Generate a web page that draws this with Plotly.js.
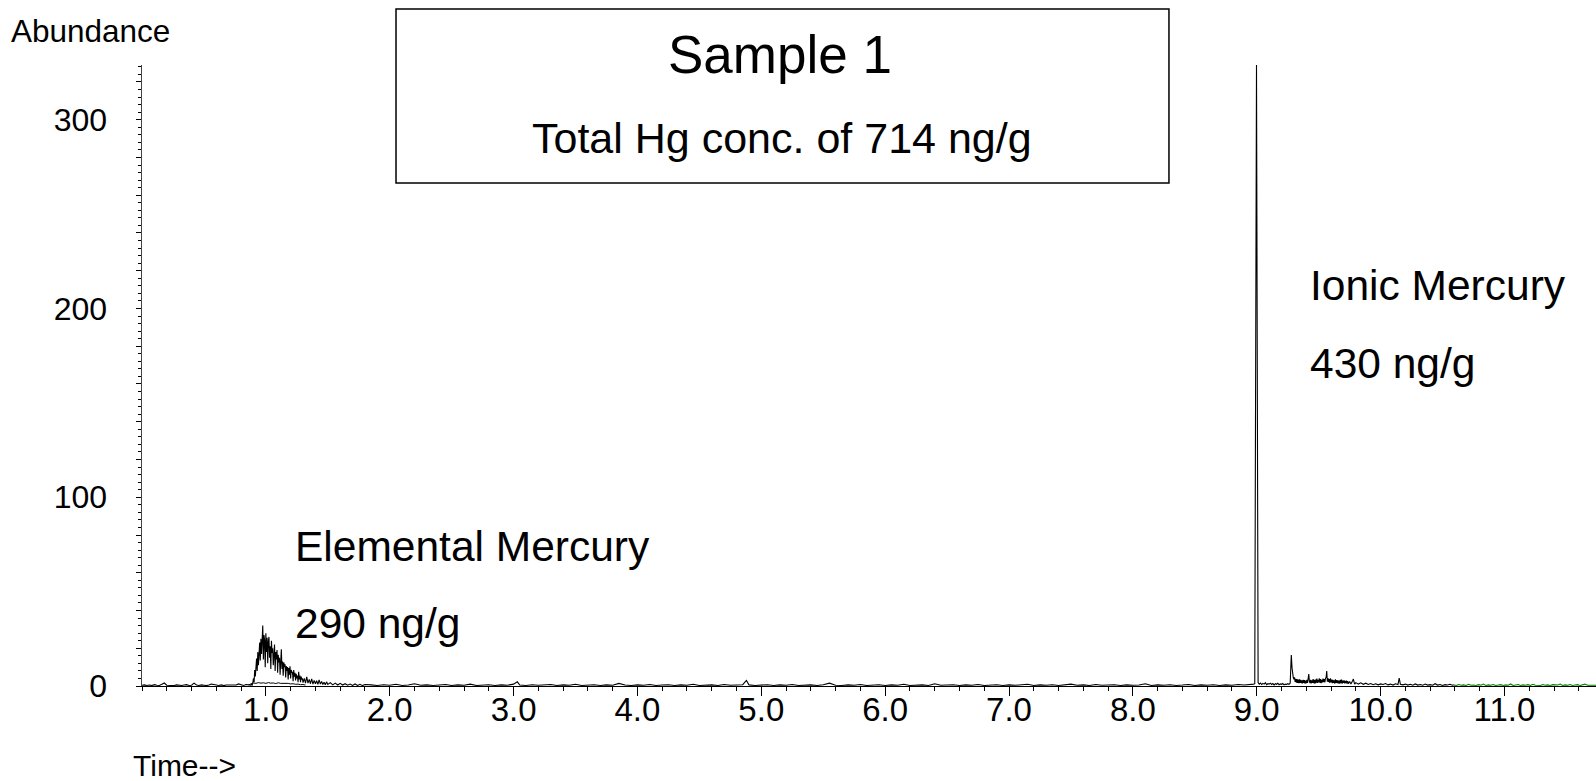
<!DOCTYPE html>
<html>
<head>
<meta charset="utf-8">
<script src="https://cdn.plot.ly/plotly-3.0.1.min.js"></script>
<style>html,body{margin:0;padding:0;background:#fff;}#chart{width:1596px;height:781px;}</style>
</head>
<body>
<div id="chart"></div>
<script>
// ---- Data: [time (min), abundance] ----
const mainScan = [
  [0.00,0.4],[0.02,0.6],[0.04,0.3],[0.06,0.5],[0.08,0.2],[0.10,0.7],[0.12,0.4],[0.14,0.3],[0.16,0.9],[0.18,1.6],
  [0.20,0.4],[0.22,0.3],[0.24,0.5],[0.26,0.2],[0.28,0.6],[0.30,0.4],[0.32,0.3],[0.34,0.5],[0.36,0.7],[0.38,0.3],
  [0.40,0.4],[0.42,1.5],[0.44,0.5],[0.46,0.3],[0.48,0.6],[0.50,0.4],[0.52,0.2],[0.54,0.5],[0.56,1.0],[0.58,0.8],
  [0.60,0.4],[0.62,0.3],[0.64,0.6],[0.66,0.2],[0.68,0.5],[0.70,0.4],[0.72,0.7],[0.74,0.3],[0.76,0.5],[0.78,1.1],
  [0.80,0.6],[0.82,0.3],[0.84,0.8],[0.86,0.5],
  [0.880,0.5],[0.885,0.9],[0.890,0.6],[0.895,1.8],[0.900,4.0],[0.905,2.0],[0.910,8.5],[0.915,5.0],[0.920,12.0],[0.925,14.5],
  [0.930,8.0],[0.935,18.0],[0.940,11.0],[0.945,20.5],[0.950,23.0],[0.955,13.5],[0.960,25.0],[0.965,17.0],[0.970,22.0],[0.975,32.0],
  [0.980,14.0],[0.985,27.0],[0.990,24.0],[0.995,10.0],[1.000,28.0],[1.005,18.0],[1.010,25.5],[1.015,12.0],[1.020,23.5],[1.025,26.0],
  [1.030,15.0],[1.035,21.0],[1.040,9.0],[1.045,24.0],[1.050,17.5],[1.055,20.0],[1.060,11.0],[1.065,19.5],[1.070,22.0],[1.075,8.0],
  [1.080,18.0],[1.085,14.0],[1.090,19.0],[1.095,7.0],[1.100,16.5],[1.105,12.5],[1.110,15.0],[1.115,6.0],[1.120,14.0],[1.125,19.5],
  [1.130,9.0],[1.135,13.0],[1.140,5.5],[1.145,12.5],[1.150,10.0],[1.155,11.5],[1.160,4.5],[1.165,10.5],[1.170,8.0],[1.175,10.0],
  [1.180,3.5],[1.185,9.5],[1.190,6.0],[1.195,10.5],[1.200,4.0],[1.205,8.5],[1.210,7.0],[1.215,7.5],[1.220,2.5],[1.225,8.5],
  [1.230,5.0],[1.235,7.0],[1.240,3.0],[1.245,6.5],[1.250,4.0],[1.255,5.5],[1.260,2.0],[1.265,7.5],[1.270,3.5],[1.275,5.5],
  [1.280,2.0],[1.285,5.0],[1.290,3.5],[1.295,4.0],[1.300,1.8],
  [1.31,4.0],[1.32,1.5],[1.33,4.8],[1.34,1.5],[1.35,3.5],[1.36,1.2],[1.37,3.8],[1.38,1.0],[1.39,3.0],[1.40,1.2],
  [1.41,2.8],[1.42,0.9],[1.43,3.2],[1.44,1.0],[1.45,2.4],[1.46,0.8],[1.47,2.0],[1.48,0.7],[1.49,2.2],[1.50,0.8],
  [1.52,1.8],[1.54,0.6],[1.56,1.5],[1.58,0.5],[1.60,1.4],[1.62,0.5],[1.64,1.2],[1.66,0.4],[1.68,1.0],[1.70,0.3],
  [1.72,1.1],[1.74,0.3],[1.76,0.9],[1.78,0.2],[1.80,0.8],
  [1.85,0.6],[1.90,0.3],[1.95,0.7],[2.00,0.4],[2.05,0.9],[2.10,0.3],[2.15,0.5],[2.20,1.2],[2.25,0.4],[2.30,0.6],
  [2.35,0.3],[2.40,0.5],[2.45,0.8],[2.50,0.3],[2.55,0.6],[2.60,0.4],[2.65,1.0],[2.70,0.3],[2.75,0.5],[2.80,0.7],
  [2.85,0.3],[2.90,0.6],[2.95,0.4],[3.00,1.0],[3.03,2.2],[3.05,0.5],[3.10,0.3],[3.15,0.7],[3.20,0.4],[3.25,0.5],
  [3.30,0.8],[3.35,0.3],[3.40,0.6],[3.45,0.4],[3.50,0.9],[3.55,0.3],[3.60,0.5],[3.65,0.7],[3.70,0.3],[3.75,0.6],
  [3.80,0.4],[3.85,1.4],[3.90,0.5],[3.95,0.3],[4.00,0.6],[4.05,0.4],[4.10,0.8],[4.15,0.3],[4.20,0.5],[4.25,0.7],
  [4.30,0.3],[4.35,0.6],[4.40,0.4],[4.45,0.9],[4.50,0.3],[4.55,0.5],[4.60,0.6],[4.65,0.3],[4.70,0.8],[4.75,0.4],
  [4.80,0.5],[4.85,0.7],[4.88,3.0],[4.90,0.6],[4.95,0.3],[5.00,0.5],[5.05,0.7],[5.10,0.3],[5.15,0.6],[5.20,0.4],
  [5.25,0.8],[5.30,0.3],[5.35,0.5],[5.40,0.6],[5.45,0.3],[5.50,0.7],[5.55,1.5],[5.60,0.4],[5.65,0.3],[5.70,0.6],
  [5.75,0.4],[5.80,0.8],[5.85,0.3],[5.90,0.5],[5.95,0.7],[6.00,0.3],[6.05,0.6],[6.10,0.4],[6.15,0.9],[6.20,0.3],
  [6.25,0.5],[6.30,0.6],[6.35,0.3],[6.40,1.2],[6.45,0.4],[6.50,0.5],[6.55,0.7],[6.60,0.3],[6.65,0.6],[6.70,0.4],
  [6.75,0.8],[6.80,0.3],[6.85,0.5],[6.90,0.7],[6.95,0.3],[7.00,0.6],[7.05,0.4],[7.10,0.5],[7.15,0.9],[7.20,0.3],
  [7.25,0.6],[7.30,0.4],[7.35,0.7],[7.40,0.3],[7.45,0.5],[7.50,1.0],[7.55,0.4],[7.60,0.6],[7.65,0.3],[7.70,0.8],
  [7.75,0.4],[7.80,0.5],[7.85,0.7],[7.90,0.3],[7.95,0.6],[8.00,0.4],[8.05,0.5],[8.10,1.2],[8.15,0.3],[8.20,0.6],
  [8.25,0.4],[8.30,0.7],[8.35,0.3],[8.40,0.5],[8.45,0.8],[8.50,0.3],[8.55,0.6],[8.60,0.4],[8.65,0.7],[8.70,0.3],
  [8.75,0.6],[8.80,0.4],[8.85,0.8],[8.90,0.5],[8.95,0.6],[8.975,1.0],
  [8.984,1.2],[8.998,329],[9.011,1.8],
  [9.02,1.0],[9.03,1.6],[9.04,0.8],[9.05,1.4],[9.06,1.0],[9.07,1.8],[9.08,0.7],[9.09,1.2],[9.10,1.0],[9.11,1.5],
  [9.12,0.8],[9.13,1.3],[9.14,0.6],[9.15,1.2],[9.16,0.9],[9.17,1.4],[9.18,0.7],[9.19,1.1],[9.20,0.9],[9.21,1.3],
  [9.22,0.6],[9.23,1.0],[9.24,0.8],[9.25,1.2],[9.26,0.9],[9.27,1.5],[9.275,9.0],[9.279,16.4],[9.285,9.5],[9.29,6.0],
  [9.295,4.5],[9.30,3.5],[9.305,4.6],[9.31,2.2],[9.315,3.8],[9.32,1.8],[9.325,3.6],[9.33,1.6],[9.335,3.4],[9.34,1.5],
  [9.345,3.5],[9.35,1.7],[9.355,3.2],[9.36,1.5],[9.365,3.0],[9.37,1.4],[9.375,3.3],[9.38,1.6],[9.385,3.1],[9.39,1.3],
  [9.395,2.8],[9.40,1.5],[9.405,3.2],[9.41,1.6],[9.415,4.0],[9.42,6.3],[9.425,2.5],[9.43,1.5],[9.435,3.2],[9.44,1.4],
  [9.445,3.0],[9.45,1.7],[9.455,3.6],[9.46,1.5],[9.465,3.2],[9.47,1.3],[9.475,3.4],[9.48,1.7],[9.485,3.9],[9.49,1.6],
  [9.495,3.3],[9.50,1.9],[9.505,4.0],[9.51,1.7],[9.515,3.6],[9.52,1.5],[9.525,3.2],[9.53,1.9],[9.535,3.9],[9.54,2.1],
  [9.545,3.6],[9.55,1.9],[9.555,4.1],[9.56,4.5],[9.565,7.9],[9.57,2.3],[9.575,4.2],[9.58,2.1],[9.585,3.6],[9.59,1.7],
  [9.595,4.0],[9.60,1.9],[9.605,3.4],[9.61,1.5],[9.615,3.3],[9.62,1.6],[9.625,3.0],[9.63,1.3],[9.635,3.5],[9.64,1.6],
  [9.645,3.1],[9.65,1.5],[9.655,3.0],[9.66,1.4],[9.665,2.9],[9.67,1.2],[9.675,3.2],[9.68,1.5],[9.685,3.4],[9.69,1.3],
  [9.695,2.8],[9.70,1.7],[9.705,3.0],[9.71,1.4],[9.715,2.7],[9.72,1.5],[9.725,2.9],[9.73,1.3],[9.735,2.6],[9.74,1.2],
  [9.75,2.4],[9.76,1.1],[9.77,2.2],[9.78,3.7],[9.79,1.0],[9.80,1.8],[9.82,1.0],[9.84,1.7],[9.86,0.9],[9.88,1.5],
  [9.90,0.8],[9.92,1.3],[9.94,0.7],[9.96,1.2],[9.98,0.6],[10.00,1.1],[10.02,0.8],[10.04,1.3],[10.06,0.6],[10.08,1.0],
  [10.10,0.5],[10.12,1.2],[10.14,0.8],[10.15,4.2],[10.16,0.9],[10.18,0.6],[10.20,1.0],[10.22,0.5],[10.24,0.9],[10.26,0.4],
  [10.28,1.1],[10.30,0.5],[10.32,0.8],[10.34,0.4],[10.36,1.0],[10.38,0.5],[10.40,0.7],[10.42,0.4],[10.44,1.2],[10.46,0.5],
  [10.48,0.8],[10.50,0.3],[10.52,0.7],[10.54,0.5],[10.56,0.9],[10.58,0.4],[10.59,0.6]
];

// second, near-zero trace visible under the elemental peak
const baselineScan = [
  [0.86,0.6],[0.88,1.2],[0.90,1.6],[0.92,1.4],[0.94,1.8],[0.96,1.5],[0.98,1.7],[1.00,1.4],[1.02,1.8],[1.04,1.5],
  [1.06,1.6],[1.08,1.3],[1.10,1.7],[1.12,1.4],[1.14,1.5],[1.16,1.2],[1.18,1.4],[1.20,1.1],[1.22,1.2],[1.24,0.9],
  [1.26,1.0],[1.28,0.7],[1.30,0.8],[1.32,0.5]
];

// final green segment
const endScan = [
  [10.59,0.6],[10.61,0.3],[10.63,0.8],[10.65,0.4],[10.67,0.6],[10.69,0.3],[10.71,0.9],[10.73,0.4],[10.75,0.5],[10.77,0.3],
  [10.79,0.7],[10.81,0.4],[10.83,1.0],[10.85,0.3],[10.87,0.6],[10.89,0.4],[10.91,0.8],[10.93,0.3],[10.95,0.5],[10.97,0.7],
  [10.99,0.3],[11.01,0.6],[11.03,0.4],[11.05,1.1],[11.07,0.3],[11.09,0.5],[11.11,0.8],[11.13,0.3],[11.15,0.6],[11.17,0.4],
  [11.19,0.7],[11.21,0.3],[11.23,0.9],[11.25,0.4],[11.27,0.5],[11.29,0.3],[11.31,0.8],[11.33,0.4],[11.35,0.6],[11.37,0.3],
  [11.39,0.7],[11.41,0.4],[11.43,0.5],[11.45,1.0],[11.47,0.3],[11.49,0.6],[11.51,0.4],[11.53,0.8],[11.55,0.3],[11.57,0.5],
  [11.59,0.7],[11.61,0.3],[11.63,0.6],[11.65,1.0],[11.67,0.4],[11.69,0.5],[11.71,0.3],[11.73,0.7],[11.75,0.4]
];

const xTickValues = [1,2,3,4,5,6,7,8,9,10,11];
const xTickLabels = ['1.0','2.0','3.0','4.0','5.0','6.0','7.0','8.0','9.0','10.0','11.0'];
const yTickValues = [0,20,40,60,80,100,120,140,160,180,200,220,240,260,280,300,320];
const yTickLabels = ['0','','','','','100','','','','','200','','','','','300',''];

const titleText = 'Sample 1';
const subtitleText = 'Total Hg conc. of 714 ng/g';
const peakLabels = [
  {name:'Elemental Mercury', amount:'290 ng/g'},
  {name:'Ionic Mercury', amount:'430 ng/g'}
];

const FONT = 'Liberation Sans, Arial, Helvetica, sans-serif';

const traces = [
  {x: baselineScan.map(p=>p[0]), y: baselineScan.map(p=>p[1]), type:'scatter', mode:'lines',
   line:{color:'#000', width:1}, hoverinfo:'skip'},
  {x: mainScan.map(p=>p[0]), y: mainScan.map(p=>p[1]), type:'scatter', mode:'lines',
   line:{color:'#000', width:1.1}},
  {x: endScan.map(p=>p[0]), y: endScan.map(p=>p[1]), type:'scatter', mode:'lines',
   line:{color:'#008000', width:1.1}}
];

const layout = {
  width:1596, height:781,
  margin:{l:142, r:0, t:65, b:95, pad:0},
  paper_bgcolor:'#fff', plot_bgcolor:'#fff',
  showlegend:false,
  font:{family:FONT, color:'#000'},
  xaxis:{
    range:[0, 11.739], tickmode:'array', tickvals:xTickValues, ticktext:xTickLabels,
    ticks:'outside', ticklen:9, tickwidth:1, tickcolor:'#000',
    showline:true, linecolor:'#000', linewidth:1, showgrid:false, zeroline:false,
    tickfont:{family:FONT, size:33, color:'#000'}, ticklabelstandoff:-15,
    minor:{tickmode:'linear', tick0:0, dtick:0.2, ticks:'outside', ticklen:4, tickwidth:1, tickcolor:'#000', showgrid:false}
  },
  yaxis:{
    range:[0, 329], tickmode:'array', tickvals:yTickValues, ticktext:yTickLabels,
    ticks:'outside', ticklen:5, tickwidth:1, tickcolor:'#000',
    showline:true, linecolor:'#444', linewidth:1.5, showgrid:false, zeroline:false,
    tickfont:{family:FONT, size:32, color:'#000'}, ticklabelstandoff:22,
    minor:{tickmode:'linear', tick0:0, dtick:4, ticks:'outside', ticklen:3, tickwidth:1, tickcolor:'#000', showgrid:false}
  },
  shapes:[
    {type:'rect', xref:'paper', yref:'paper', x0:0.1747, x1:0.7063, y0:0.810, y1:1.0902,
     line:{color:'#000', width:1.5}, fillcolor:'rgba(0,0,0,0)'}
  ],
  annotations:[
    {text:titleText, xref:'paper', yref:'paper', x:0.4390, y:1.0170, xanchor:'center', yanchor:'middle',
     showarrow:false, font:{family:FONT, size:53, color:'#000'}},
    {text:subtitleText, xref:'paper', yref:'paper', x:0.4405, y:0.8830, xanchor:'center', yanchor:'middle',
     showarrow:false, font:{family:FONT, size:43, color:'#000'}},
    {text:peakLabels[0].name, xref:'paper', yref:'paper', x:0.1040, y:0.2250, xanchor:'left', yanchor:'middle',
     showarrow:false, font:{family:FONT, size:42.5, color:'#000'}},
    {text:peakLabels[0].amount, xref:'paper', yref:'paper', x:0.1040, y:0.1000, xanchor:'left', yanchor:'middle',
     showarrow:false, font:{family:FONT, size:42.5, color:'#000'}},
    {text:peakLabels[1].name, xref:'paper', yref:'paper', x:0.8020, y:0.6450, xanchor:'left', yanchor:'middle',
     showarrow:false, font:{family:FONT, size:42.5, color:'#000'}},
    {text:peakLabels[1].amount, xref:'paper', yref:'paper', x:0.8020, y:0.5193, xanchor:'left', yanchor:'middle',
     showarrow:false, font:{family:FONT, size:42.5, color:'#000'}},
    {text:'Abundance', xref:'paper', yref:'paper', x:-0.0915, y:1.0550, xanchor:'left', yanchor:'middle',
     showarrow:false, font:{family:FONT, size:31.5, color:'#000'}},
    {text:'Time-->', xref:'paper', yref:'paper', x:-0.0076, y:-0.1285, xanchor:'left', yanchor:'middle',
     showarrow:false, font:{family:FONT, size:30, color:'#000'}}
  ]
};

Plotly.newPlot('chart', traces, layout, {displayModeBar:false, staticPlot:true});
</script>
</body>
</html>
